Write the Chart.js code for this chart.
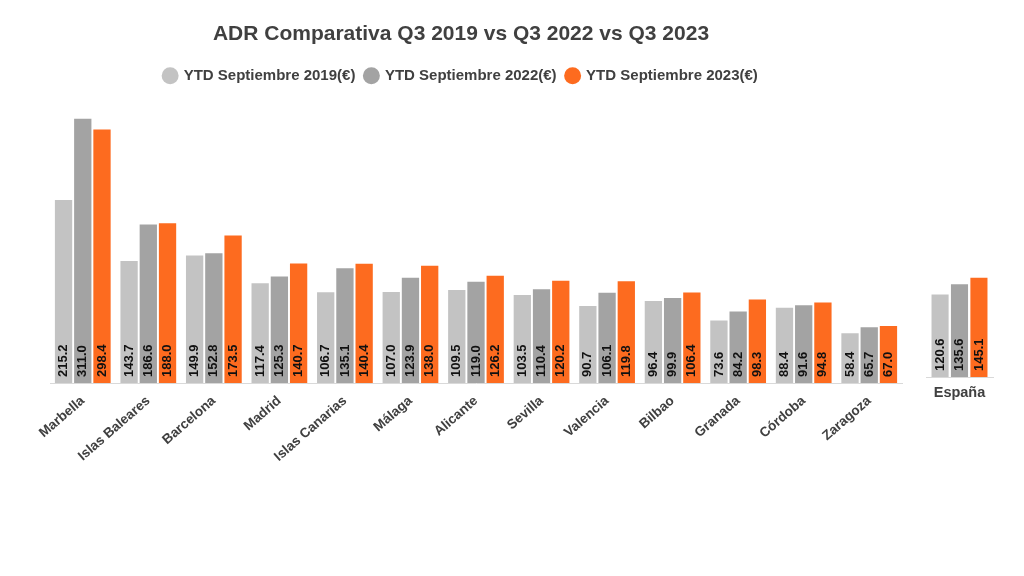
<!DOCTYPE html>
<html><head><meta charset="utf-8">
<script src="https://cdn.jsdelivr.net/npm/chart.js@4/dist/chart.umd.min.js"></script>
<style>
html,body{margin:0;padding:0;background:#fff;width:1024px;height:576px;overflow:hidden;font-family:"Liberation Sans",Arial,sans-serif;}
#w1{position:absolute;left:0;top:0;width:912px;height:463px;}
#w2{position:absolute;left:918px;top:0;width:83px;height:407px;}
</style></head><body>
<div id="w1"><canvas id="c1"></canvas></div>
<div id="w2"><canvas id="c2"></canvas></div>
<script>
const categories = ["Marbella","Islas Baleares","Barcelona","Madrid","Islas Canarias","Málaga","Alicante","Sevilla","Valencia","Bilbao","Granada","Córdoba","Zaragoza"];
const seriesNames = ["YTD Septiembre 2019(€)","YTD Septiembre 2022(€)","YTD Septiembre 2023(€)"];
const v2019 = [215.2,143.7,149.9,117.4,106.7,107.0,109.5,103.5,90.7,96.4,73.6,88.4,58.4];
const v2022 = [311.0,186.6,152.8,125.3,135.1,123.9,119.0,110.4,106.1,99.9,84.2,91.6,65.7];
const v2023 = [298.4,188.0,173.5,140.7,140.4,138.0,126.2,120.2,119.8,106.4,98.3,94.8,67.0];
const totalCategory = ["España"];
const total2019 = [120.6];
const total2022 = [135.6];
const total2023 = [145.1];

const colors = ["#c3c3c3","#a3a3a3","#fd6b1f"];
const FONT = "'Liberation Sans', Arial, sans-serif";

const insideLabels = {
  id:'insideLabels',
  afterDatasetsDraw(chart){
    const ctx = chart.ctx;
    ctx.save();
    ctx.font = "bold 13px " + FONT;
    ctx.fillStyle = "#111";
    ctx.textAlign = "left";
    ctx.textBaseline = "middle";
    chart.data.datasets.forEach((ds,i)=>{
      const meta = chart.getDatasetMeta(i);
      meta.data.forEach((bar,j)=>{
        const v = ds.data[j];
        ctx.save();
        ctx.translate(bar.x, bar.base-6);
        ctx.rotate(-Math.PI/2);
        ctx.fillText(v.toFixed(1),0,0);
        ctx.restore();
      });
    });
    ctx.restore();
  }
};

function mkDatasets(a,b,c,cp,bp){
  return [a,b,c].map((d,i)=>({label:seriesNames[i],data:d,backgroundColor:colors[i],borderWidth:0,
    barPercentage:bp,categoryPercentage:cp}));
}

new Chart(document.getElementById('c1'),{
  type:'bar',
  data:{labels:categories,datasets:mkDatasets(v2019,v2022,v2023,0.88,0.9)},
  plugins:[insideLabels],
  options:{
    responsive:true,maintainAspectRatio:false,animation:false,
    layout:{padding:{left:20,right:10,top:0,bottom:0}},
    plugins:{
      title:{display:true,text:"ADR Comparativa Q3 2019 vs Q3 2022 vs Q3 2023",color:"#404040",
        font:{family:FONT,size:21,weight:'bold'},padding:{top:22,bottom:11}},
      legend:{display:true,labels:{usePointStyle:true,pointStyle:'circle',boxWidth:12,boxHeight:12,padding:10,
        color:"#404040",font:{family:FONT,size:15,weight:'bold'}}},
      tooltip:{enabled:false}
    },
    scales:{
      x:{grid:{display:false,drawTicks:false},border:{display:true,color:"#d9d9d9",width:1},
        afterFit:(s)=>{s.height=80;},
        ticks:{color:"#404040",font:{family:FONT,size:13.5,weight:'bold'},minRotation:41,maxRotation:41,padding:10}},
      y:{display:true,position:'left',min:0,max:341,grid:{display:false},border:{display:false},
        afterFit:(s)=>{s.width=30;},
        ticks:{display:false}}
    }
  }
});

new Chart(document.getElementById('c2'),{
  type:'bar',
  data:{labels:totalCategory,datasets:mkDatasets(total2019,total2022,total2023,0.87,0.88)},
  plugins:[insideLabels],
  options:{
    responsive:true,maintainAspectRatio:false,animation:false,
    layout:{padding:{left:8,right:8,top:100,bottom:0}},
    plugins:{legend:{display:false},title:{display:false},tooltip:{enabled:false}},
    scales:{
      x:{grid:{display:false,drawTicks:false},border:{display:true,color:"#d9d9d9",width:1},
        afterFit:(s)=>{s.height=30;},
        ticks:{color:"#404040",font:{family:FONT,size:14.5,weight:'bold'},maxRotation:0,padding:7}},
      y:{display:false,min:0,max:405}
    }
  }
});
</script>
</body></html>
